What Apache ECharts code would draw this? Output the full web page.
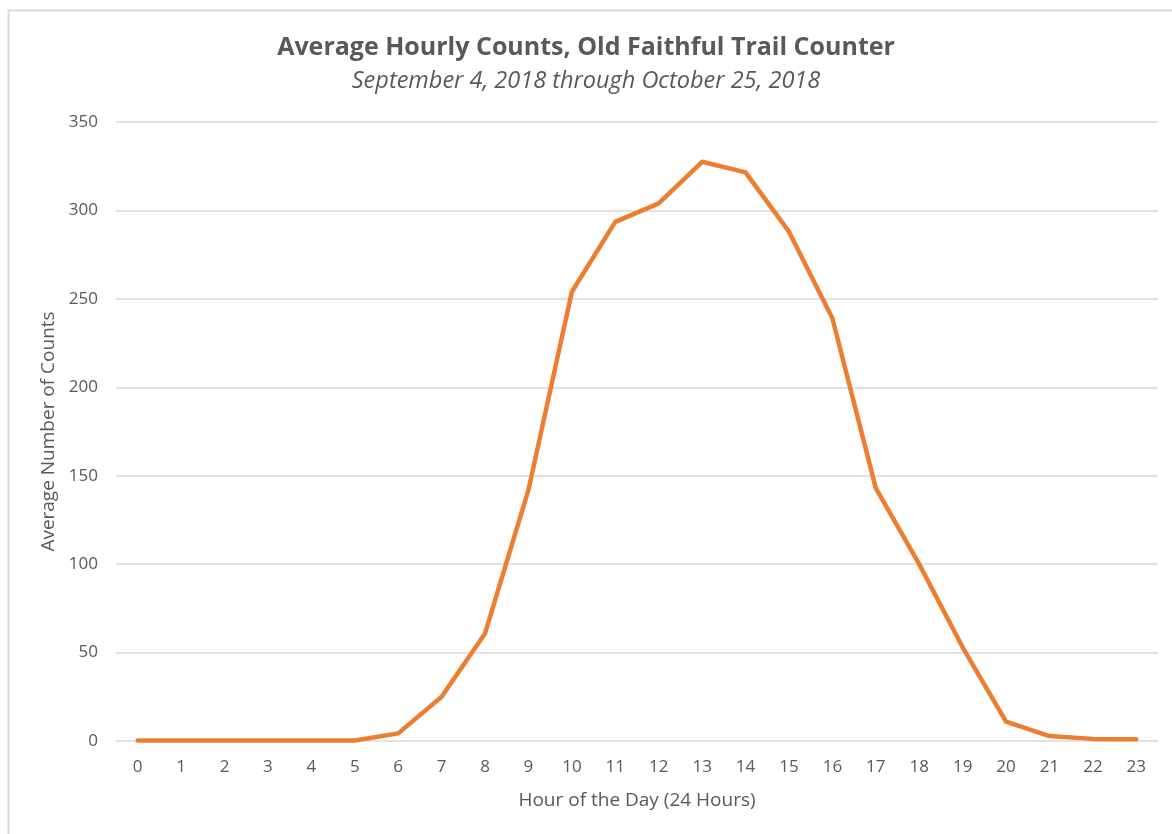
<!DOCTYPE html>
<html>
<head>
<meta charset="utf-8">
<script src="https://cdn.jsdelivr.net/npm/echarts@6/dist/echarts.min.js"></script>
<style>
html,body{margin:0;padding:0;background:#fff;}
#c{width:1172px;height:834px;}
</style>
</head>
<body>
<div id="c"></div>
<script>
const titleText = 'Average Hourly Counts, Old Faithful Trail Counter';
const subtitleText = 'September 4, 2018 through October 25, 2018';
const hours = ['0','1','2','3','4','5','6','7','8','9','10','11','12','13','14','15','16','17','18','19','20','21','22','23'];
const avgCounts = [0.3, 0.3, 0.3, 0.3, 0.3, 0.3, 4.3, 25, 60.8, 142, 254, 293.5, 304, 327.5, 321.5, 288, 239, 143, 100, 53, 11, 2.8, 1.2, 1];
const yTicks = [0, 50, 100, 150, 200, 250, 300, 350];

const chart = echarts.init(document.getElementById('c'), null, {renderer:'canvas'});
const font = '"Open Sans", "Noto Sans", sans-serif';
chart.setOption({
  animation: false,
  backgroundColor: '#fff',
  graphic: [{
    type: 'rect', left: 6, top: 8,
    shape: {width: 1200, height: 900},
    style: {fill: 'none', stroke: '#d9d9d9', lineWidth: 2},
    silent: true, z: -1
  }],
  title: [{
    text: titleText,
    left: 'center', top: 30,
    textStyle: {fontFamily: font, fontSize: 25, fontWeight: 'bold', color: '#595959'}
  }, {
    text: subtitleText,
    left: 'center', top: 65,
    textStyle: {fontFamily: font, fontSize: 23.5, fontStyle: 'italic', fontWeight: 'normal', color: '#595959'}
  }],
  grid: {left: 116, right: 14, top: 122, bottom: 93, containLabel: false},
  xAxis: {
    type: 'category',
    data: hours,
    boundaryGap: true,
    name: 'Hour of the Day (24 Hours)',
    nameLocation: 'middle',
    nameGap: 50,
    nameTextStyle: {fontFamily: font, fontSize: 19, color: '#595959'},
    axisLine: {show: false},
    axisTick: {show: false},
    axisLabel: {fontFamily: font, fontSize: 17, color: '#595959', margin: 18, interval: 0}
  },
  yAxis: {
    type: 'value',
    min: yTicks[0], max: yTicks[yTicks.length-1], interval: 50,
    name: 'Average Number of Counts',
    nameLocation: 'middle',
    nameGap: 55,
    nameTextStyle: {fontFamily: font, fontSize: 19, color: '#595959'},
    axisLine: {show: false},
    axisTick: {show: false},
    axisLabel: {fontFamily: font, fontSize: 17, color: '#595959', margin: 18},
    splitLine: {lineStyle: {color: '#d9d9d9', width: 1.5}}
  },
  series: [{
    type: 'line',
    data: avgCounts,
    symbol: 'none',
    lineStyle: {color: '#ED7D31', width: 4.5, cap: 'round', join: 'round'},
    itemStyle: {color: '#ED7D31'}
  }]
});
</script>
</body>
</html>
